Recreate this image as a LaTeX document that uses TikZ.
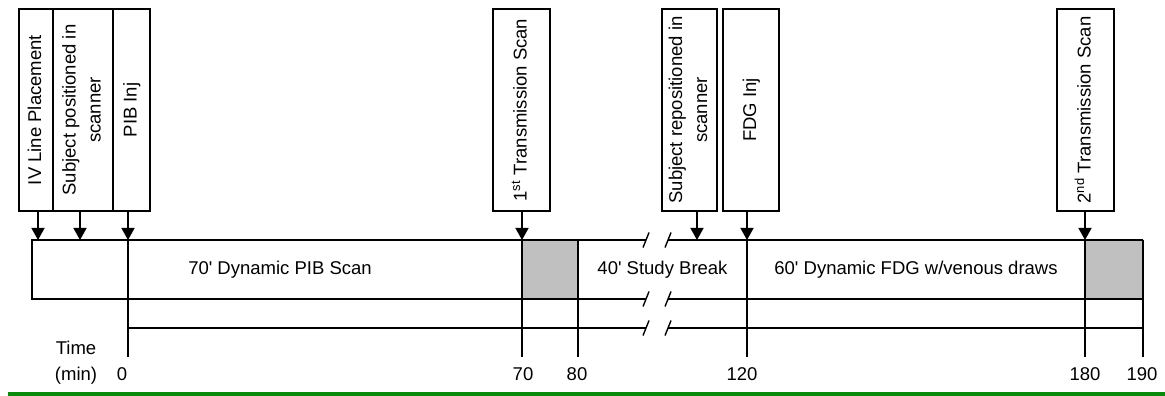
\documentclass[tikz,border=0pt]{standalone}
\usepackage{fontspec}
\setmainfont{Liberation Sans}
\usepackage{graphicx}
\usetikzlibrary{arrows.meta, positioning}
\definecolor{ScanGrey}{HTML}{C0C0C0}
\definecolor{RuleGreen}{HTML}{0A8A0A}
\tikzstyle{eventbox} = [rectangle, draw=black, fill=white, line width=1.4pt, inner sep=0pt, outer sep=0pt, minimum height=202pt]
\tikzstyle{arrow} = [line width=1.4pt, -{Triangle[length=12pt,width=13pt]}]
\tikzstyle{line} = [line width=1.4pt]
\tikzstyle{lbl} = [inner sep=0pt, anchor=base]
\newcommand{\vtext}[1]{\rotatebox{90}{\begin{tabular}{@{}c@{}}#1\end{tabular}}}

\begin{document}
\begin{tikzpicture}[x=1pt, y=1pt, font=\fontsize{18.5}{25}\selectfont]
        \useasboundingbox (0,0) rectangle (1165,396);

        % --- events ---
        \node [eventbox, minimum width=34pt, anchor=north west] (ivline) at (19,387) {\vtext{IV Line Placement}};
        \node [eventbox, minimum width=60pt, right=0pt of ivline] (positioned) {\vtext{Subject positioned in\\scanner}};
        \node [eventbox, minimum width=37pt, right=0pt of positioned] (pibinj) {\vtext{PIB Inj}};
        \node [eventbox, minimum width=57pt, anchor=north] (trans1) at (521.5,387) {\vtext{1\textsuperscript{st} Transmission Scan}};
        \node [eventbox, minimum width=55pt, anchor=north] (repos) at (689.5,387) {\vtext{Subject repositioned in\\scanner}};
        \node [eventbox, minimum width=56pt, anchor=north] (fdginj) at (751,387) {\vtext{FDG Inj}};
        \node [eventbox, minimum width=57pt, anchor=north] (trans2) at (1085.5,387) {\vtext{2\textsuperscript{nd} Transmission Scan}};

        % --- time points on the bar ---
        \coordinate (a1) at (38,156);
        \coordinate (a2) at (80,156);
        \coordinate (ar) at (697,156);
        \coordinate (t0) at (128,156);
        \coordinate (t70) at (522,156);
        \coordinate (t80) at (578,156);
        \coordinate (t120) at (747,156);
        \coordinate (t180) at (1085,156);
        \coordinate (t190) at (1143,156);

        % --- scan bar ---
        \fill [ScanGrey] (t70) rectangle (578,97);
        \fill [ScanGrey] (t180) rectangle (1143,97);
        \draw [line] (646,156) -- (32,156) -- (32,97) -- (646,97);
        \draw [line] (668,156) -- (t190);
        \draw [line] (668,97) -- (1143,97);
        \draw [line] (128,68) -- (646,68);
        \draw [line] (668,68) -- (1143,68);
        \foreach \y in {156,97,68} {
            \draw [line] (643,\y-7.5) -- (649,\y+7.5);
            \draw [line] (665,\y-7.5) -- (671,\y+7.5);
        }

        % ticks and numbers
        \foreach \t/\lx/\v in {t0/122/0, t70/523/70, t80/577/80, t120/742/120, t180/1085/180, t190/1142/190} {
            \draw [line] (\t) -- ++(0,-117);
            \node [lbl] (n\v) at (\lx,15) {\v};
        }
        \node [lbl] (time) at (76,41) {Time};
        \node [lbl] (unit) at (76,15) {(min)};

        % bar labels
        \node [lbl] (pibscan) at (280,121) {70\textquotesingle{} Dynamic PIB Scan};
        \node [lbl] (studybreak) at (662.5,121) {40\textquotesingle{} Study Break};
        \node [lbl] (fdgscan) at (916,121) {60\textquotesingle{} Dynamic FDG w/venous draws};

        % Connect events
        \draw [arrow] (ivline.south -| a1) -- (a1);
        \draw [arrow] (positioned.south -| a2) -- (a2);
        \draw [arrow] (pibinj.south -| t0) -- (t0);
        \draw [arrow] (trans1.south -| t70) -- (t70);
        \draw [arrow] (repos.south -| ar) -- (ar);
        \draw [arrow] (fdginj.south -| t120) -- (t120);
        \draw [arrow] (trans2.south -| t180) -- (t180);

        % footer rule
        \fill [RuleGreen] (8,0) rectangle (1165,3.5);
\end{tikzpicture}
\end{document}
